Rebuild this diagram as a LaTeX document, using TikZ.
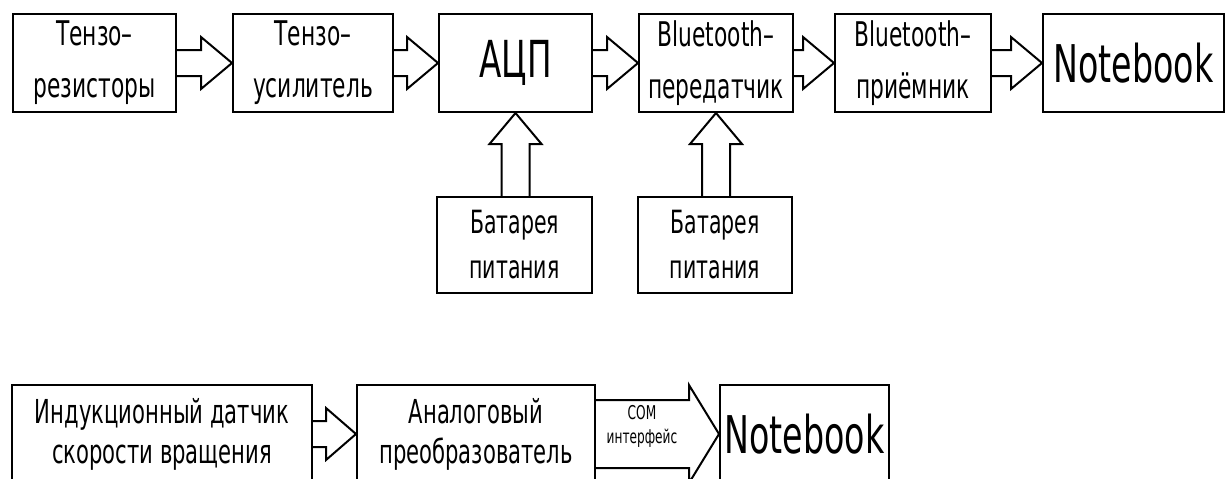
\documentclass[tikz,border=0pt]{standalone}
\usepackage{fontspec}
\setmainfont{DejaVu Sans}[FakeStretch=0.64]
\usetikzlibrary{calc}
\tikzset{
  box/.style={draw, line width=2pt, inner sep=0pt, align=center},
  arrowline/.style={draw, line width=2pt, line join=miter},
}
\newcommand{\fsTwo}{\fontsize{34}{52}\selectfont}
\newcommand{\fsBat}{\fontsize{32}{45}\selectfont}
\newcommand{\fsBig}{\fontsize{52}{56}\selectfont}
\newcommand{\fsAdc}{\fontsize{51}{56}\selectfont}
\newcommand{\fsLow}{\fontsize{33}{40}\selectfont}
\newcommand{\fsCom}{\fontsize{19}{24}\selectfont}
% horizontal hollow arrow: src, dst, shaft half, head half, head length
\newcommand{\harr}[5]{%
  \draw[arrowline] let \p1=(#1.east), \p2=(#2.west) in
   (\x1,\y2+#3pt) -- (\x2-#5pt,\y2+#3pt) -- (\x2-#5pt,\y2+#4pt) -- (\x2,\y2)
   -- (\x2-#5pt,\y2-#4pt) -- (\x2-#5pt,\y2-#3pt) -- (\x1,\y2-#3pt);}
% vertical hollow arrow from src (below) up to dst
\newcommand{\varr}[5]{%
  \draw[arrowline] let \p1=(#1.north), \p2=(#2.south) in
   (\x2-#3pt,\y1) -- (\x2-#3pt,\y2-#5pt) -- (\x2-#4pt,\y2-#5pt) -- (\x2,\y2)
   -- (\x2+#4pt,\y2-#5pt) -- (\x2+#3pt,\y2-#5pt) -- (\x2+#3pt,\y1);}
\begin{document}
\begin{tikzpicture}[x=1pt,y=-1pt]
\useasboundingbox (0,0) rectangle (1229,479);
\clip (0,0) rectangle (1229,479);
% top row
\node[box, minimum width=163pt, minimum height=98pt, font=\fsTwo] (b1) at (94.5,63) {Тензо–\\резисторы};
\node[box, minimum width=160pt, minimum height=98pt, font=\fsTwo] (b2) at (313,63) {Тензо–\\усилитель};
\node[box, minimum width=153pt, minimum height=98pt, font=\fsAdc] (b3) at (515.5,63) {АЦП};
\node[box, minimum width=154pt, minimum height=98pt, font=\fsTwo] (b4) at (716,63) {Bluetooth–\\передатчик};
\node[box, minimum width=156pt, minimum height=98pt, font=\fsTwo] (b5) at (913,63) {Bluetooth–\\приёмник};
\node[box, minimum width=181pt, minimum height=98pt, font=\fsBig] (b6) at (1133.5,63) {Notebook};
% batteries
\node[box, minimum width=155pt, minimum height=96pt, font=\fsBat] (p1) at (514.5,245) {Батарея\\питания};
\node[box, minimum width=154pt, minimum height=96pt, font=\fsBat] (p2) at (715,245) {Батарея\\питания};
% top arrows
\harr{b1}{b2}{13}{26}{31}
\harr{b2}{b3}{13}{26}{31}
\harr{b3}{b4}{13}{26}{31}
\harr{b4}{b5}{13}{26}{31}
\harr{b5}{b6}{13}{26}{31}
\varr{p1}{b3}{14}{26}{31}
\varr{p2}{b4}{14}{26}{31}
% bottom row
\node[box, minimum width=300pt, minimum height=98pt, font=\fsLow] (c1) at (162,434) {Индукционный датчик\\скорости вращения};
\node[box, minimum width=238pt, minimum height=98pt, font=\fsLow] (c2) at (476,434) {Аналоговый\\преобразователь};
\node[box, minimum width=169pt, minimum height=98pt, font=\fsBig] (c3) at (804.5,434) {Notebook};
\harr{c1}{c2}{13}{26}{30}
\harr{c2}{c3}{34}{49}{30}
\node[align=center, inner sep=0pt, font=\fsCom] (com) at (642,426) {COM\\интерфейс};
\end{tikzpicture}
\end{document}
